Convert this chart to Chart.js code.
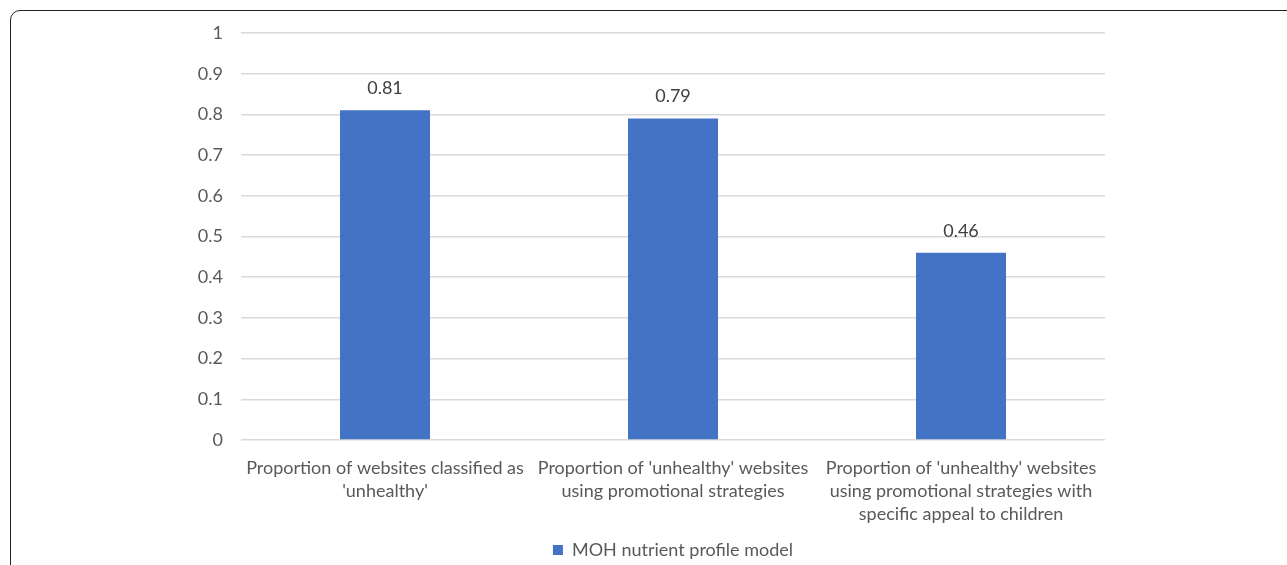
<!DOCTYPE html>
<html>
<head>
<meta charset="utf-8">
<script src="https://cdn.jsdelivr.net/npm/chart.js@4/dist/chart.umd.min.js"></script>
<style>
  html, body { margin: 0; padding: 0; background: #fff; overflow: hidden; }
  #wrap { position: relative; width: 1287px; height: 565px; }
  #frame {
    position: absolute; left: 10px; top: 10px; width: 1290px; height: 600px;
    border: 1.5px solid #222; border-top-left-radius: 10px; box-sizing: border-box;
  }
  canvas { position: absolute; left: 0; top: 0; }
</style>
</head>
<body>
<div id="wrap">
  <div id="frame"></div>
  <canvas id="barChart" width="1287" height="565"></canvas>
</div>
<script>
// categories and values
const categories = [
    ['Proportion of websites classified as', "'unhealthy'"],
    ["Proportion of 'unhealthy' websites", 'using promotional strategies'],
    ["Proportion of 'unhealthy' websites", 'using promotional strategies with', 'specific appeal to children']
]
const seriesName = 'MOH nutrient profile model'
const seriesValues = [0.81, 0.79, 0.46]
const yTicks = [0, 0.1, 0.2, 0.3, 0.4, 0.5, 0.6, 0.7, 0.8, 0.9, 1]

const FONT = 'Lato, "Open Sans", sans-serif'

// draws the value above each bar, like Excel data labels
const valueLabels = {
    id: 'valueLabels',
    afterDatasetsDraw(chart) {
        const ctx = chart.ctx
        ctx.save()
        ctx.font = '18px ' + FONT
        ctx.fillStyle = '#404040'
        ctx.textAlign = 'center'
        ctx.textBaseline = 'middle'
        chart.getDatasetMeta(0).data.forEach((bar, i) => {
            ctx.fillText(String(seriesValues[i]), bar.x, bar.y - 22)
        })
        ctx.restore()
    }
}

const ctx = document.getElementById('barChart').getContext('2d')
new Chart(ctx, {
    type: 'bar',
    data: {
        labels: categories,
        datasets: [{
            label: seriesName,
            data: seriesValues,
            backgroundColor: '#4472C4',
            categoryPercentage: 1,
            barPercentage: 0.3125
        }]
    },
    options: {
        responsive: false,
        animation: false,
        layout: { padding: { top: 33, right: 182, left: 0, bottom: 0 } },
        plugins: {
            tooltip: { enabled: false },
            legend: {
                position: 'bottom',
                fullSize: false,
                maxHeight: 26,
                labels: {
                    boxWidth: 10,
                    boxHeight: 10,
                    padding: 2,
                    color: '#595959',
                    font: { family: FONT, size: 18 }
                }
            }
        },
        scales: {
            x: {
                grid: { display: false, drawTicks: false },
                border: { display: false },
                ticks: {
                    color: '#595959',
                    padding: 16,
                    maxRotation: 0,
                    autoSkip: false,
                    font: { family: FONT, size: 18, lineHeight: 1.3 }
                },
                afterFit(scale) { scale.height = 99 }
            },
            y: {
                min: 0,
                max: 1,
                afterBuildTicks(scale) { scale.ticks = yTicks.map(v => ({ value: v })) },
                grid: { color: '#d9d9d9', lineWidth: 1.5, drawTicks: false },
                border: { display: false },
                ticks: {
                    color: '#595959',
                    padding: 18,
                    font: { family: FONT, size: 18 },
                    callback: (v) => String(v)
                },
                afterFit(scale) { scale.width = 241 }
            }
        }
    },
    plugins: [valueLabels]
})
</script>
</body>
</html>
